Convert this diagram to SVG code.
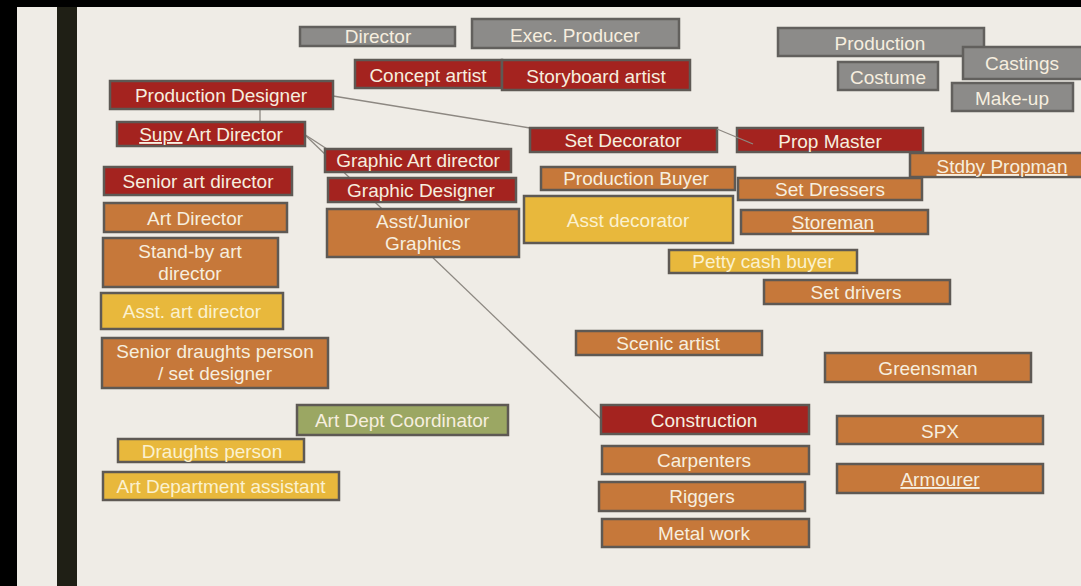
<svg xmlns="http://www.w3.org/2000/svg" width="1081" height="586" viewBox="0 0 1081 586">
<style>
.box{stroke:#5e5954;stroke-width:2.5}
.red{fill:#a4231f}
.org{fill:#c6783a}
.yel{fill:#e8b83c}
.gry{fill:#8c8b89;stroke:#62605d}
.grn{fill:#9ba763}
.t{font-family:"Liberation Sans",Arial,sans-serif;font-size:19px;fill:#f6eedf;text-anchor:middle}
.ty{fill:#fbf1cf}
.u{text-decoration:underline}
.c{stroke:#8d8882;stroke-width:1.3;fill:none}
</style>
<rect x="0" y="0" width="1081" height="586" fill="#efece6"/>
<rect x="0" y="0" width="1081" height="7" fill="#000"/>
<rect x="0" y="0" width="17" height="586" fill="#000"/>
<rect x="57" y="7" width="20" height="579" fill="#1f1f15"/>
<g id="connectors">
<line class="c" x1="260" y1="109" x2="260" y2="122"/>
<line class="c" x1="333" y1="96" x2="530" y2="128"/>
<line class="c" x1="304" y1="134" x2="327" y2="149"/>
<line class="c" x1="304" y1="134" x2="601" y2="419"/>
</g>
<g id="director"><rect class="box gry" x="300" y="27" width="155" height="19"/><text class="t" x="378" y="43">Director</text></g>
<g id="exec-producer"><rect class="box gry" x="472" y="19" width="207" height="29"/><text class="t" x="575" y="42">Exec. Producer</text></g>
<g id="concept-artist"><rect class="box red" x="355" y="60" width="147" height="28"/><text class="t" x="428" y="82">Concept artist</text></g>
<g id="storyboard-artist"><rect class="box red" x="502" y="60" width="188" height="30"/><text class="t" x="596" y="83">Storyboard artist</text></g>
<g id="production"><rect class="box gry" x="778" y="28" width="206" height="28"/><text class="t" x="880" y="50">Production</text></g>
<g id="castings"><rect class="box gry" x="963" y="47" width="122" height="32"/><text class="t" x="1022" y="70">Castings</text></g>
<g id="costume"><rect class="box gry" x="838" y="62" width="100" height="28"/><text class="t" x="888" y="84">Costume</text></g>
<g id="make-up"><rect class="box gry" x="952" y="83" width="121" height="28"/><text class="t" x="1012" y="105">Make-up</text></g>
<g id="production-designer"><rect class="box red" x="110" y="81" width="223" height="28"/><text class="t" x="221" y="102">Production Designer</text></g>
<g id="supv-art-director"><rect class="box red" x="117" y="122" width="188" height="24"/><text class="t" x="211" y="141"><tspan class="u">Supv</tspan> Art Director</text></g>
<g id="senior-art-director"><rect class="box red" x="104" y="167" width="188" height="28"/><text class="t" x="198" y="188">Senior art director</text></g>
<g id="set-decorator"><rect class="box red" x="530" y="128" width="187" height="24"/><text class="t" x="623" y="147">Set Decorator</text></g>
<g id="prop-master"><rect class="box red" x="737" y="128" width="186" height="24"/><text class="t" x="830" y="148">Prop Master</text></g>
<line class="c" x1="717" y1="129" x2="753" y2="144"/>
<g id="stdby-propman"><rect class="box org" x="910" y="153" width="175" height="24"/><text class="t u" x="1002" y="173">Stdby Propman</text></g>
<g id="graphic-art-director"><rect class="box red" x="325" y="149" width="186" height="23"/><text class="t" x="418" y="167">Graphic Art director</text></g>
<g id="graphic-designer"><rect class="box red" x="328" y="178" width="188" height="24"/><text class="t" x="421" y="197">Graphic Designer</text></g>
<g id="production-buyer"><rect class="box org" x="541" y="167" width="194" height="23"/><text class="t" x="636" y="185">Production Buyer</text></g>
<g id="set-dressers"><rect class="box org" x="738" y="178" width="184" height="22"/><text class="t" x="830" y="196">Set Dressers</text></g>
<g id="art-director"><rect class="box org" x="104" y="203" width="183" height="29"/><text class="t" x="195" y="225">Art Director</text></g>
<g id="stand-by-art-director"><rect class="box org" x="103" y="238" width="175" height="49"/><text class="t" x="190" y="258">Stand-by art</text><text class="t" x="190" y="280">director</text></g>
<g id="asst-art-director"><rect class="box yel" x="101" y="293" width="182" height="36"/><text class="t ty" x="192" y="318">Asst. art director</text></g>
<g id="senior-draughts-person"><rect class="box org" x="102" y="338" width="226" height="50"/><text class="t" x="215" y="358">Senior draughts person</text><text class="t" x="215" y="380">/ set designer</text></g>
<g id="asst-junior-graphics"><rect class="box org" x="327" y="209" width="192" height="48"/><text class="t" x="423" y="228">Asst/Junior</text><text class="t" x="423" y="250">Graphics</text></g>
<g id="asst-decorator"><rect class="box yel" x="524" y="196" width="209" height="47"/><text class="t ty" x="628" y="227">Asst decorator</text></g>
<g id="storeman"><rect class="box org" x="741" y="210" width="187" height="24"/><text class="t u" x="833" y="229">Storeman</text></g>
<g id="petty-cash-buyer"><rect class="box yel" x="669" y="250" width="188" height="23"/><text class="t ty" x="763" y="268">Petty cash buyer</text></g>
<g id="set-drivers"><rect class="box org" x="764" y="280" width="186" height="24"/><text class="t" x="856" y="299">Set drivers</text></g>
<g id="scenic-artist"><rect class="box org" x="576" y="331" width="186" height="24"/><text class="t" x="668" y="350">Scenic artist</text></g>
<g id="greensman"><rect class="box org" x="825" y="353" width="206" height="29"/><text class="t" x="928" y="375">Greensman</text></g>
<g id="art-dept-coordinator"><rect class="box grn" x="297" y="405" width="211" height="30"/><text class="t" x="402" y="427">Art Dept Coordinator</text></g>
<g id="draughts-person"><rect class="box yel" x="118" y="439" width="186" height="23"/><text class="t ty" x="212" y="458">Draughts person</text></g>
<g id="art-department-assistant"><rect class="box yel" x="103" y="472" width="236" height="28"/><text class="t ty" x="221" y="493">Art Department assistant</text></g>
<g id="construction"><rect class="box red" x="601" y="405" width="208" height="29"/><text class="t" x="704" y="427">Construction</text></g>
<g id="carpenters"><rect class="box org" x="602" y="446" width="207" height="28"/><text class="t" x="704" y="467">Carpenters</text></g>
<g id="riggers"><rect class="box org" x="599" y="482" width="206" height="29"/><text class="t" x="702" y="503">Riggers</text></g>
<g id="metal-work"><rect class="box org" x="602" y="519" width="207" height="28"/><text class="t" x="704" y="540">Metal work</text></g>
<g id="spx"><rect class="box org" x="837" y="416" width="206" height="28"/><text class="t" x="940" y="438">SPX</text></g>
<g id="armourer"><rect class="box org" x="837" y="464" width="206" height="29"/><text class="t u" x="940" y="486">Armourer</text></g>
</svg>
